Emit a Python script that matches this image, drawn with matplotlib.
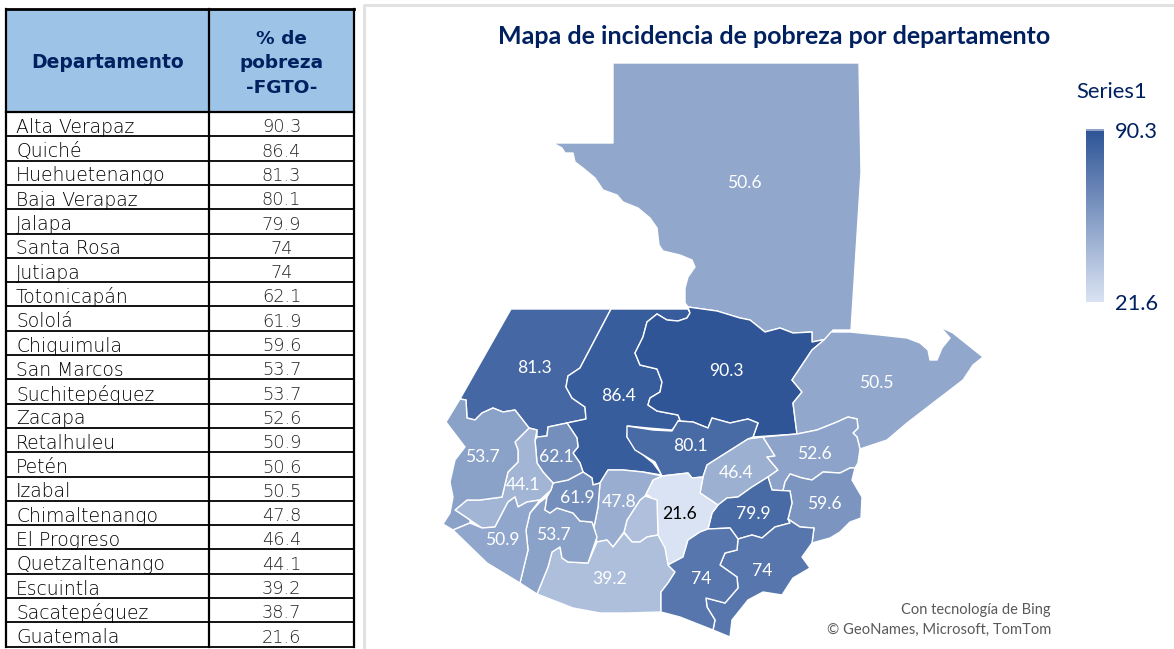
import matplotlib
matplotlib.use("Agg")
import matplotlib.pyplot as plt
from matplotlib.colors import LinearSegmentedColormap, Normalize
from matplotlib.patches import Polygon, Rectangle
import numpy as np

departments = ["Alta Verapaz", "Quiché", "Huehuetenango", "Baja Verapaz", "Jalapa", "Santa Rosa",
               "Jutiapa", "Totonicapán", "Sololá", "Chiquimula", "San Marcos", "Suchitepéquez",
               "Zacapa", "Retalhuleu", "Petén", "Izabal", "Chimaltenango", "El Progreso",
               "Quetzaltenango", "Escuintla", "Sacatepéquez", "Guatemala"]
poverty = [90.3, 86.4, 81.3, 80.1, 79.9, 74, 74, 62.1, 61.9, 59.6, 53.7, 53.7,
           52.6, 50.9, 50.6, 50.5, 47.8, 46.4, 44.1, 39.2, 38.7, 21.6]
value = dict(zip(departments, poverty))

# Department outlines
shapes = {
 "Petén": [(613,63),(859,63),(861,172),(851,330),(833,330),(827,339),(812,342),(812,332),(793,333),(780,328),(765,332),(750,320),(740,318),(717,311),(688,307),(685,303),(685,288),(688,277),(695,267),(692,260),(680,255),(663,251),(659,245),(657,228),(650,218),(638,208),(623,202),(617,195),(603,190),(595,178),(583,168),(575,162),(573,153),(565,153),(562,148),(553,143),(613,143)],
 "Huehuetenango": [(511,309),(611,309),(580,368),(568,376),(566,387),(572,398),(585,407),(586,419),(567,423),(548,427),(547,436),(537,437),(537,430),(529,428),(515,410),(503,412),(493,408),(482,413),(475,420),(467,418),(466,400),(460,399)],
 "Quiché": [(611,309),(688,309),(690,313),(687,318),(678,321),(667,320),(657,314),(647,322),(643,337),(635,353),(640,365),(657,369),(662,382),(660,392),(650,398),(648,405),(657,411),(678,415),(680,420),(672,430),(648,428),(628,426),(627,437),(637,450),(653,463),(662,475),(643,472),(623,470),(608,470),(600,483),(593,485),(592,478),(583,472),(580,463),(573,453),(578,447),(577,438),(567,423),(586,419),(585,407),(572,398),(566,387),(568,376),(580,368)],
 "Alta Verapaz": [(688,307),(717,311),(740,318),(750,320),(765,332),(780,328),(793,333),(812,332),(812,342),(827,339),(824,340),(812,350),(792,380),(802,392),(793,403),(797,434),(753,437),(758,423),(748,419),(730,423),(712,418),(708,428),(693,422),(678,421),(680,420),(678,415),(657,411),(648,405),(650,398),(660,392),(662,382),(657,369),(640,365),(635,353),(643,337),(647,322),(657,314),(667,320),(678,321),(687,318),(690,313)],
 "Izabal": [(831,332),(850,332),(880,335),(907,338),(920,343),(928,350),(930,360),(937,360),(942,348),(950,338),(943,330),(934,324),(953,333),(983,357),(973,365),(963,380),(933,403),(907,423),(887,440),(860,449),(857,437),(853,433),(858,428),(857,419),(848,417),(837,422),(817,430),(797,434),(793,403),(802,392),(792,380),(812,350),(824,340)],
 "Baja Verapaz": [(627,426),(653,430),(672,431),(678,421),(693,422),(708,428),(712,418),(730,423),(748,419),(758,423),(753,437),(748,439),(707,465),(703,477),(692,478),(688,473),(662,476),(655,462),(635,450),(627,437)],
 "El Progreso": [(748,439),(763,437),(775,456),(767,457),(778,470),(768,477),(752,487),(738,497),(727,498),(718,505),(700,493),(703,477),(707,465)],
 "Zacapa": [(763,437),(797,434),(817,430),(837,422),(848,417),(857,419),(858,428),(853,433),(857,437),(860,449),(858,463),(855,468),(850,468),(840,473),(823,472),(812,480),(802,478),(790,474),(785,482),(783,491),(772,490),(768,477),(778,470),(767,457),(775,456)],
 "Chiquimula": [(783,491),(785,482),(790,474),(802,478),(812,480),(823,472),(840,473),(850,468),(855,468),(852,480),(862,497),(861,518),(850,522),(840,532),(830,538),(812,543),(814,528),(800,527),(788,519),(792,503),(790,491)],
 "Jalapa": [(768,477),(772,490),(790,491),(792,503),(788,519),(790,523),(775,527),(762,538),(752,535),(738,539),(730,528),(708,529),(712,513),(718,505),(727,498),(738,497),(752,487)],
 "Guatemala": [(662,476),(688,473),(692,478),(703,477),(700,493),(718,505),(712,513),(708,529),(700,532),(688,540),(683,557),(668,565),(665,548),(658,537),(657,503),(648,495),(645,496),(653,480)],
 "Sacatepéquez": [(645,496),(657,500),(658,535),(647,537),(640,542),(632,542),(624,532),(627,520),(640,500)],
 "Chimaltenango": [(608,470),(623,470),(643,472),(662,476),(653,480),(645,496),(640,500),(627,520),(624,532),(613,547),(607,540),(597,542),(594,527),(598,507),(600,483)],
 "Escuintla": [(624,533),(632,542),(640,542),(647,537),(658,535),(665,548),(668,565),(675,572),(668,583),(661,592),(661,612),(627,613),(600,613),(573,608),(537,594),(548,567),(552,552),(560,547),(562,558),(568,562),(588,563),(597,542),(607,540),(613,547)],
 "Suchitepéquez": [(547,497),(545,510),(550,513),(557,508),(573,513),(580,521),(592,522),(597,537),(588,563),(568,562),(562,558),(560,547),(552,552),(548,567),(537,594),(520,583),(528,550),(526,530),(530,513),(540,502)],
 "Sololá": [(553,483),(568,480),(583,472),(592,478),(593,485),(600,483),(598,507),(594,527),(592,522),(580,521),(573,513),(557,508),(550,513),(545,510),(547,497),(551,490)],
 "Totonicapán": [(537,437),(547,436),(548,427),(567,423),(577,438),(578,447),(573,453),(580,463),(583,472),(568,480),(553,483),(543,472),(537,463),(535,440)],
 "Quetzaltenango": [(529,428),(537,430),(535,440),(537,463),(543,472),(553,483),(551,490),(540,500),(527,502),(518,507),(515,497),(508,502),(495,527),(482,528),(470,520),(455,510),(467,500),(480,500),(502,497),(508,472),(518,462),(518,450),(515,442)],
 "San Marcos": [(460,399),(466,400),(467,418),(475,420),(482,413),(493,408),(503,412),(515,410),(529,428),(515,442),(518,450),(518,462),(508,472),(502,497),(480,500),(467,500),(455,510),(470,520),(470,523),(453,530),(443,524),(450,513),(453,497),(450,482),(455,460),(465,447),(446,422)],
 "Retalhuleu": [(453,530),(470,523),(482,528),(495,527),(508,502),(515,497),(518,507),(527,502),(540,500),(530,513),(526,530),(528,550),(520,583),(487,563)],
 "Jutiapa": [(738,539),(752,535),(762,538),(775,527),(790,523),(788,519),(800,527),(814,528),(812,543),(802,557),(810,568),(793,578),(782,595),(763,592),(748,600),(732,620),(730,637),(713,630),(715,620),(707,607),(706,598),(725,603),(738,588),(737,577),(720,565),(725,553),(737,550)],
 "Santa Rosa": [(708,529),(730,528),(738,539),(737,550),(725,553),(720,565),(737,577),(738,588),(725,603),(706,598),(707,607),(715,620),(713,630),(680,617),(661,612),(661,592),(668,583),(675,572),(668,565),(683,557),(688,540),(700,532)],
}
map_labels = {
 "Petén": (744,183), "Huehuetenango": (534,368), "Quiché": (618,396), "Alta Verapaz": (726,371),
 "Izabal": (876,383), "Baja Verapaz": (690,446), "El Progreso": (736,473), "Zacapa": (814,454),
 "Chiquimula": (824,504), "Jalapa": (753,514), "Guatemala": (680,514), "Chimaltenango": (619,502),
 "Escuintla": (610,579), "Suchitepéquez": (553,535), "Sololá": (577,498), "Totonicapán": (556,457),
 "Quetzaltenango": (523,485), "San Marcos": (482,457), "Retalhuleu": (502,540), "Jutiapa": (762,571),
 "Santa Rosa": (701,579), "Sacatepéquez": None,
}

NAVY = "#002060"
cmap = LinearSegmentedColormap.from_list("pov", ["#DAE3F3", "#2F5597"])
norm = Normalize(min(poverty), max(poverty))

fig = plt.figure(figsize=(11.74, 6.49), dpi=100, facecolor="white")
ax = fig.add_axes([0, 0, 1, 1])
ax.set_axis_off()

# Table
x0, x1, x2 = 6, 209, 354
top, head, row_h = 9, 112, 24.3
ax.add_patch(Rectangle((x0, top), x2 - x0, head - top, fc="#9DC3E6", ec="none"))
ax.text((x0 + x1) / 2, 63, "Departamento", ha="center", va="center", color=NAVY,
        fontweight="bold", fontsize=13.5, family="DejaVu Sans")
ax.text((x1 + x2) / 2, 63.5, "% de\npobreza\n-FGTO-", ha="center", va="center", color=NAVY,
        fontweight="bold", fontsize=13.3, family="DejaVu Sans", linespacing=1.43)
for i, (d, p) in enumerate(zip(departments, poverty)):
    y = head + (i + 0.63) * row_h
    ax.text(16, y, d, ha="left", va="center", fontsize=13.5, color="black", family="DejaVu Sans", fontweight="ultralight")
    ax.text((x1 + x2) / 2, y, f"{p:g}", ha="center", va="center", fontsize=12.8, color="#222222",
            family="DejaVu Sans", fontweight="ultralight")
    ax.plot([x0, x2], [head + (i + 1) * row_h] * 2, color="black", lw=1.3, solid_capstyle="butt")
bottom = head + len(departments) * row_h
ax.plot([x0, x2], [top, top], color="black", lw=2)
ax.plot([x0, x2], [head, head], color="black", lw=1.6)
ax.plot([x0, x0], [top, bottom], color="black", lw=1.6)
ax.plot([x2, x2], [top, bottom], color="black", lw=1.6)
ax.plot([x1, x1], [top, bottom], color="black", lw=1.6)

# Chart frame
ax.plot([364, 364, 1174], [649, 5, 5], color="#E2E2E2", lw=2.2)

# Map
for name, pts in shapes.items():
    ax.add_patch(Polygon(pts, closed=True, fc=cmap(norm(value[name])), ec="white", lw=1.0, joinstyle="round"))
for name, pos in map_labels.items():
    if pos is None:
        continue
    col = "black" if name == "Guatemala" else "white"
    ax.text(pos[0], pos[1], f"{value[name]:g}", ha="center", va="center", color=col, fontsize=12.6, family="Lato")

ax.text(774, 37, "Mapa de incidencia de pobreza por departamento", ha="center", va="center",
        color=NAVY, fontweight="bold", fontsize=18, family="Lato")
ax.text(1051, 610, "Con tecnología de Bing", ha="right", va="center", color="#595959", fontsize=10.5, family="Lato")
ax.text(1051, 630, "© GeoNames, Microsoft, TomTom", ha="right", va="center", color="#595959", fontsize=10.6, family="Lato")

# Legend
ax.text(1076, 92, "Series1", ha="left", va="center", color=NAVY, fontsize=15.8, family="Lato")
grad = np.linspace(max(poverty), min(poverty), 200).reshape(-1, 1)
ax.imshow(grad, cmap=cmap, norm=norm, extent=(1086, 1104, 302, 130), aspect="auto", zorder=2)
ax.add_patch(Rectangle((1086, 129), 18, 2, fc="#8FA3C8", ec="none", zorder=3))
ax.text(1115, 132, f"{max(poverty):g}", ha="left", va="center", color=NAVY, fontsize=15.7, family="Lato")
ax.text(1115, 304, f"{min(poverty):g}", ha="left", va="center", color=NAVY, fontsize=15.7, family="Lato")

ax.set_xlim(0, 1174)
ax.set_ylim(649, 0)
fig.savefig("out.png", dpi=100)
